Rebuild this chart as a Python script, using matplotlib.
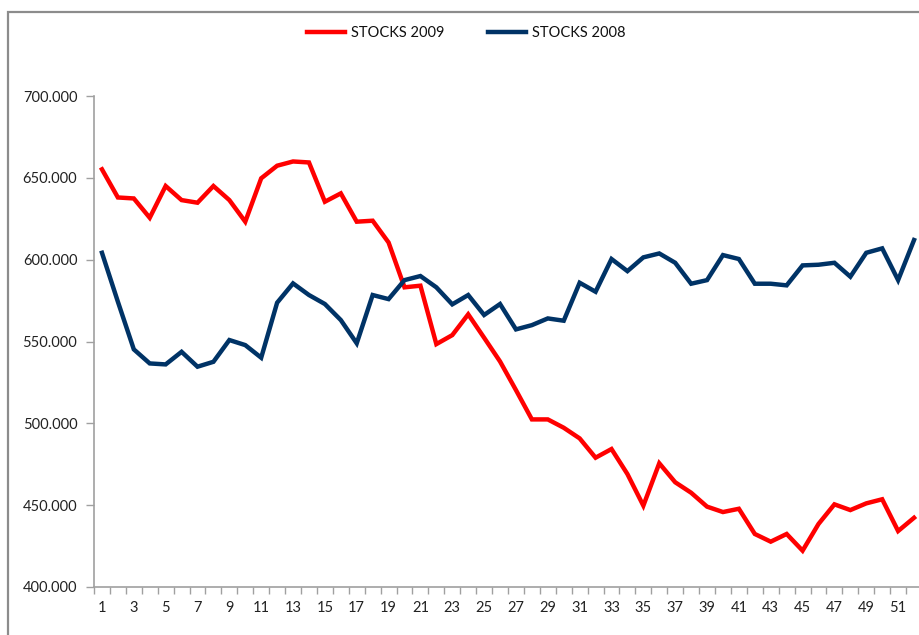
import matplotlib.pyplot as plt
import matplotlib.patches as mpatches
from matplotlib.ticker import FuncFormatter, MultipleLocator
import numpy as np

plt.rcParams['font.family'] = ['Lato', 'DejaVu Sans']

weeks = np.arange(1, 53)

stocks_2009 = [655.2, 638.0, 637.4, 625.6, 645.0, 636.4, 634.8, 645.0, 636.4, 623.2,
               649.7, 657.4, 660.0, 659.4, 635.4, 640.5, 623.2, 623.8, 610.5, 583.1,
               584.1, 548.4, 553.9, 566.6, 552.3, 537.8, 520.3, 502.4, 502.4, 497.3,
               490.8, 479.0, 484.3, 469.0, 449.7, 475.6, 464.0, 457.6, 449.1, 445.8,
               447.8, 432.4, 427.7, 432.4, 422.2, 438.5, 450.5, 447.0, 451.1, 453.6,
               434.2, 442.3]

stocks_2008 = [604.2, 574.3, 545.2, 536.6, 536.0, 543.7, 534.6, 537.6, 550.9, 547.8,
               540.1, 573.7, 585.5, 578.4, 572.9, 563.1, 548.9, 578.4, 575.9, 587.5,
               590.0, 583.1, 572.7, 578.4, 566.2, 572.9, 557.4, 560.0, 564.1, 562.7,
               585.9, 580.4, 600.4, 593.0, 601.4, 603.8, 598.1, 585.3, 587.5, 602.8,
               600.4, 585.3, 585.3, 584.3, 596.5, 596.9, 598.1, 589.6, 604.2, 606.9,
               587.5, 612.0]

fig = plt.figure(figsize=(9.19, 6.35), dpi=100)

# chart frame (extends past the right/bottom edge like in the source)
frame = mpatches.Rectangle((7.5 / 919, -0.05), 1.0, 1 - 11.5 / 635 + 0.05,
                           transform=fig.transFigure, fill=False,
                           edgecolor='#8c8c8c', linewidth=1.6)
fig.patches.append(frame)

ax = fig.add_axes([94 / 919, 48 / 635, 828 / 919, 491 / 635])

ax.plot(weeks, stocks_2009, color='#ff0000', lw=3.2, label='STOCKS 2009',
        solid_joinstyle='miter')
ax.plot(weeks, stocks_2008, color='#003366', lw=3.2, label='STOCKS 2008',
        solid_joinstyle='miter')

ax.set_xlim(0.5, 52.5)
ax.set_ylim(400, 700)

ax.set_xticks(weeks[::2])
ax.set_xticklabels([str(w) for w in weeks[::2]])
ax.xaxis.set_minor_locator(MultipleLocator(1, offset=0.5))
ax.tick_params(axis='x', which='major', length=0, pad=10)
ax.tick_params(axis='x', which='minor', length=5, width=1, color='#a0a0a0',
               direction='out')
ax.yaxis.set_major_locator(MultipleLocator(50))
ax.yaxis.set_major_formatter(FuncFormatter(lambda v, p: '%d.000' % v))
ax.tick_params(axis='y', length=6, width=1, color='#a0a0a0', pad=6)
ax.tick_params(labelsize=10.5, labelcolor='#222222')

for s in ['top', 'right']:
    ax.spines[s].set_visible(False)
for s in ['left', 'bottom']:
    ax.spines[s].set_color('#a0a0a0')
    ax.spines[s].set_linewidth(1.2)

leg = fig.legend(loc='center', bbox_to_anchor=(466 / 919, 1 - 33 / 635), ncol=2,
                 frameon=False, fontsize=10.5, handlelength=2.6, handletextpad=0.4,
                 columnspacing=3.0)
for t in leg.get_texts():
    t.set_color('#111111')

fig.savefig('out.png', dpi=100)
